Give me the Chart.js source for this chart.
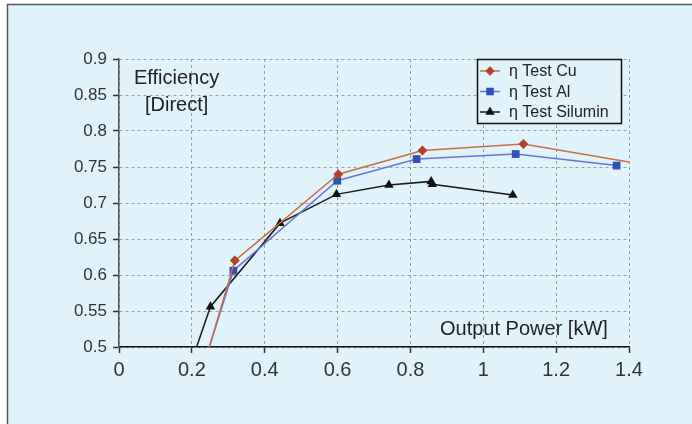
<!DOCTYPE html>
<html>
<head>
<meta charset="utf-8">
<script src="https://cdn.jsdelivr.net/npm/chart.js@4"></script>
<style>
  html, body { margin: 0; padding: 0; background: #ffffff; }
  #wrap { width: 692px; height: 424px; }
</style>
</head>
<body>
<div id="wrap"><canvas id="c" width="692" height="424"></canvas></div>
<script>
// ---- data ----
const seriesNames = ["η Test Cu", "η Test Al", "η Test Silumin"];
const cuX = [0.248, 0.318, 0.602, 0.833, 1.110, 1.400];
const cuY = [0.500, 0.620, 0.740, 0.773, 0.782, 0.757];
const alX = [0.248, 0.314, 0.599, 0.817, 1.089, 1.366];
const alY = [0.500, 0.606, 0.731, 0.761, 0.768, 0.752];
const siX = [0.213, 0.251, 0.442, 0.597, 0.741, 0.857, 0.860, 1.081];
const siY = [0.500, 0.556, 0.672, 0.712, 0.725, 0.730, 0.726, 0.711];
const xTicks = [0, 0.2, 0.4, 0.6, 0.8, 1, 1.2, 1.4];
const xTickLabels = ["0", "0.2", "0.4", "0.6", "0.8", "1", "1.2", "1.4"];
const yTicks = [0.5, 0.55, 0.6, 0.65, 0.7, 0.75, 0.8, 0.85, 0.9];
const yTickLabels = ["0.5", "0.55", "0.6", "0.65", "0.7", "0.75", "0.8", "0.85", "0.9"];
const yTitleLines = ["Efficiency", "[Direct]"];
const xTitle = "Output Power [kW]";

const BG = "#e0f2fa";
const FONT = "'Liberation Sans', Arial, Helvetica, sans-serif";

function pts(xs, ys) { return xs.map((x, i) => ({ x: x, y: ys[i] })); }
// hide markers on points that sit on the plot edge (clipped in the reference)
function radii(xs, ys, r) { return xs.map((x, i) => (ys[i] <= 0.5 || x >= 1.4) ? 0 : r); }

const styles = [
  { line: "#c86e44", point: "#b5402a", shape: "rectRot", r: 5 },
  { line: "#6675d4", point: "#2d52b2", shape: "rect", r: 5.5 },
  { line: "#1a1a1a", point: "#111111", shape: "triangle", r: 5.5 }
];

const datasets = [
  { label: seriesNames[0], data: pts(cuX, cuY), pointRadius: radii(cuX, cuY, styles[0].r) },
  { label: seriesNames[1], data: pts(alX, alY), pointRadius: radii(alX, alY, styles[1].r) },
  { label: seriesNames[2], data: pts(siX, siY), pointRadius: radii(siX, siY, styles[2].r) }
].map((d, i) => Object.assign(d, {
  borderColor: styles[i].line,
  backgroundColor: styles[i].point,
  pointBackgroundColor: styles[i].point,
  pointBorderColor: styles[i].point,
  pointBorderWidth: 0,
  pointStyle: styles[i].shape,
  borderWidth: 1.5,
  tension: 0,
  showLine: true,
  fill: false
}));

const decor = {
  id: "decor",
  beforeDraw(chart) {
    const ctx = chart.ctx;
    ctx.save();
    ctx.fillStyle = "#ffffff";
    ctx.fillRect(0, 0, chart.width, chart.height);
    ctx.fillStyle = BG;
    ctx.fillRect(7, 4, chart.width - 7, chart.height - 4);
    ctx.strokeStyle = "#555555";
    ctx.lineWidth = 1.5;
    ctx.beginPath();
    ctx.moveTo(7.5, chart.height);
    ctx.lineTo(7.5, 4.5);
    ctx.lineTo(chart.width, 4.5);
    ctx.stroke();
    ctx.restore();
  },
  afterDatasetsDraw(chart) {
    const ctx = chart.ctx;
    ctx.save();
    // axis titles inside plot
    ctx.fillStyle = "#222222";
    ctx.font = "20px " + FONT;
    ctx.textBaseline = "middle";
    ctx.textAlign = "left";
    ctx.fillText(yTitleLines[0], 134, 78);
    ctx.fillText(yTitleLines[1], 145, 105);
    ctx.fillText(xTitle, 440, 329);
    // legend box
    const bx = 477.5, by = 59.5, bw = 144, bh = 64;
    ctx.fillStyle = BG;
    ctx.fillRect(bx, by, bw, bh);
    ctx.strokeStyle = "#111111";
    ctx.lineWidth = 1.5;
    ctx.strokeRect(bx, by, bw, bh);
    const rowsY = [71, 91.5, 112];
    ctx.font = "16px " + FONT;
    chart.data.datasets.forEach((ds, i) => {
      const y = rowsY[i];
      ctx.strokeStyle = ds.borderColor;
      ctx.lineWidth = 1.5;
      ctx.beginPath();
      ctx.moveTo(480, y);
      ctx.lineTo(500, y);
      ctx.stroke();
      ctx.fillStyle = ds.pointBackgroundColor;
      ctx.strokeStyle = ds.pointBackgroundColor;
      ctx.lineWidth = 0.5;
      Chart.helpers.drawPoint(ctx, { pointStyle: ds.pointStyle, radius: styles[i].r - 0.5, rotation: 0, borderWidth: 0.5 }, 490, y);
      ctx.fillStyle = "#222222";
      ctx.textBaseline = "middle";
      ctx.fillText(ds.label, 509, y + 1);
    });
    ctx.restore();
  }
};

const gridOpts = {
  color: "#9c9c9c",
  lineWidth: 1,
  drawTicks: true,
  tickLength: 6,
  tickColor: "#333333",
  tickBorderDash: [],
  tickWidth: 1.5
};

new Chart(document.getElementById("c"), {
  type: "line",
  data: { datasets: datasets },
  options: {
    responsive: false,
    animation: false,
    devicePixelRatio: 1,
    layout: { padding: { left: 0, top: 59, right: 63, bottom: 0 } },
    plugins: { legend: { display: false }, tooltip: { enabled: false } },
    scales: {
      x: {
        type: "linear",
        min: 0, max: 1.4,
        afterFit(s) { s.height = 77; },
        afterBuildTicks(s) { s.ticks = xTicks.map(v => ({ value: v })); },
        ticks: {
          callback(v) { const i = xTicks.findIndex(t => Math.abs(t - v) < 1e-9); return i >= 0 ? xTickLabels[i] : ""; },
          color: "#333333",
          font: { family: FONT, size: 20 },
          padding: 5,
          maxRotation: 0
        },
        grid: Object.assign({}, gridOpts),
        border: { display: true, color: "#111111", width: 1.5, dash: [3, 3] }
      },
      y: {
        type: "linear",
        min: 0.5, max: 0.9,
        afterFit(s) { s.width = 119; },
        afterBuildTicks(s) { s.ticks = yTicks.map(v => ({ value: v })); },
        ticks: {
          callback(v) { const i = yTicks.findIndex(t => Math.abs(t - v) < 1e-9); return i >= 0 ? yTickLabels[i] : ""; },
          color: "#333333",
          font: { family: FONT, size: 17 },
          padding: 6
        },
        grid: Object.assign({}, gridOpts),
        border: { display: true, color: "#555555", width: 1.5, dash: [3, 3] }
      }
    }
  },
  plugins: [decor]
});
</script>
</body>
</html>
